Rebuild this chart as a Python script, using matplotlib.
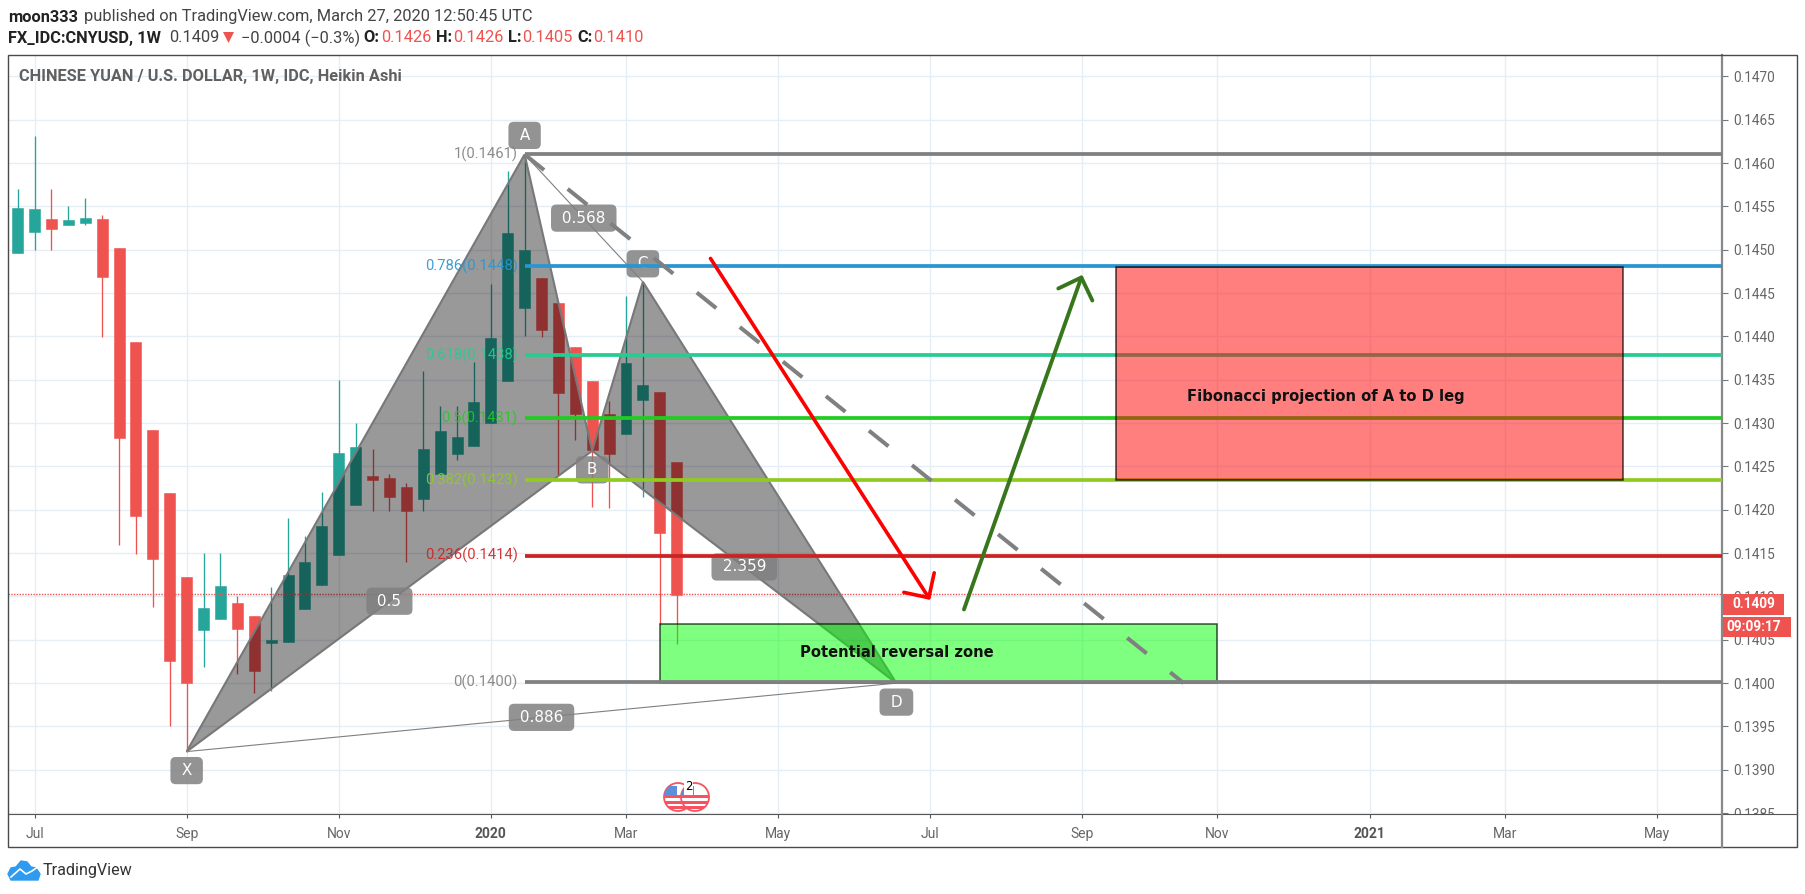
import numpy as np
import pandas as pd
import matplotlib
matplotlib.use('Agg')
import matplotlib.pyplot as plt
import matplotlib.dates as mdates
from matplotlib.lines import Line2D
from matplotlib.patches import Rectangle, Circle, Polygon
from matplotlib.transforms import Affine2D, blended_transform_factory

W, H = 1805, 894

# weekly heikin ashi candles
bar_start = '2019-06-24'
opens = [.14496, .14521, .14536, .14528, .14531, .14536, .14502, .14394, .14292, .14219,
         .14122, .14061, .14074, .14093, .14077, .14046, .14048, .14085, .14113, .14148,
         .14205, .14239, .14237, .14226, .14212, .14241, .14264, .14274, .14300, .14349,
         .14433, .14467, .14438, .14388, .14348, .14310, .14287, .14327, .14336, .14255]
closes = [.14548, .14547, .14524, .14534, .14537, .14469, .14283, .14193, .14143, .14025,
          .14000, .14087, .14112, .14062, .14014, .14050, .14125, .14140, .14181, .14265,
          .14272, .14234, .14215, .14199, .14270, .14291, .14284, .14324, .14398, .14519,
          .14500, .14407, .14335, .14310, .14269, .14264, .14369, .14344, .14173, .14102]
highs = [.14570, .14631, .14570, .14550, .14560, .14540, .14502, .14394, .14292, .14219,
         .14122, .14150, .14150, .14101, .14077, .14111, .14190, .14170, .14220, .14350,
         .14300, .14270, .14241, .14231, .14360, .14320, .14320, .14371, .14461, .14591,
         .14610, .14467, .14438, .14388, .14348, .14325, .14447, .14463, .14336, .14255]
lows = [.14496, .14500, .14500, .14528, .14528, .14399, .14159, .14149, .14088, .13950,
        .13921, .14019, .14074, .14010, .13989, .13991, .14048, .14085, .14113, .14148,
        .14205, .14199, .14199, .14140, .14199, .14241, .14258, .14274, .14300, .14349,
        .14401, .14399, .14240, .14281, .14203, .14202, .14287, .14215, .14067, .14045]

# harmonic pattern points
pattern_names = ['X', 'A', 'B', 'C', 'D']
pattern_dates = ['2019-09-02', '2020-01-20', '2020-02-17', '2020-03-09', '2020-06-22']
pattern_prices = [.13921, .1461, .14268, .14463, .1400]
ratio_labels = ['0.568', '0.5', '0.886', '2.359']

# fib levels
fib_ratios = ['1', '0.786', '0.618', '0.5', '0.382', '0.236', '0']
fib_texts = ['0.1461', '0.1448', '0.1438', '0.1431', '0.1423', '0.1414', '0.1400']
fib_levels = [.14610, .14481, .14378, .14306, .14234, .14147, .14001]
fib_colors = ['#808080', '#2A95D0', '#26CC91', '#22CC22', '#8FCC22', '#CC2222', '#808080']

# drawings
dash_dates = ['2020-01-20', '2020-10-19']
dash_prices = [.1461, .1400]
red_arrow_dates = ['2020-04-06', '2020-07-06']
red_arrow_prices = [.14490, .14096]
green_arrow_dates = ['2020-07-20', '2020-09-07']
green_arrow_prices = [.14085, .14471]
red_box = ['2020-09-21', '2021-04-19', .14234, .14480]
green_box = ['2020-03-16', '2020-11-02', .14000, .14068]
red_note = ['2020-12-17', .14331, 'Fibonacci projection of A to D leg']
green_note = ['2020-06-22', .14035, 'Potential reversal zone']
last_line = .14103
last_label = .14091

tick_dates = ['2019-07-01', '2019-09-02', '2019-11-04', '2020-01-06', '2020-03-02', '2020-05-04',
              '2020-07-06', '2020-09-07', '2020-11-02', '2021-01-04', '2021-03-01', '2021-05-03']
tick_names = ['Jul', 'Sep', 'Nov', '2020', 'Mar', 'May', 'Jul', 'Sep', 'Nov', '2021', 'Mar', 'May']
price_ticks = [.1385, .1390, .1395, .1400, .1405, .1410, .1415, .1420, .1425, .1430, .1435,
               .1440, .1445, .1450, .1455, .1460, .1465, .1470]


def dnum(d):
    return mdates.date2num(pd.Timestamp(d))


plt.rcParams['font.family'] = ['Roboto', 'DejaVu Sans']
fig = plt.figure(figsize=(W / 100, H / 100), dpi=100, facecolor='white')
px = Affine2D().scale(1, -1).translate(0, H)  # chart furniture placed in image pixels

ax = fig.add_axes([8 / W, 1 - 814 / H, 1714 / W, 759 / H])
ax.set_xlim(dnum('2019-06-20'), dnum('2021-05-30'))
ax.set_ylim(.13849, .147247)
price_per_px = (.147247 - .13849) / 759

ax.set_axisbelow(True)
ax.grid(True, color='#E6EEF5', lw=1.0)
ax.set_xticks([dnum(d) for d in tick_dates])
ax.set_xticklabels(tick_names)
ax.yaxis.tick_right()
ax.set_yticks(price_ticks)
ax.set_yticklabels(['%.4f' % p for p in price_ticks])
ax.tick_params(axis='x', length=3, width=0.8, color='#555555', labelsize=10, labelcolor='#666666', pad=6.5)
ax.tick_params(axis='y', length=4.3, width=0.8, color='#777777', labelsize=9.8, labelcolor='#666666', pad=3.6)
for lab, name in zip(ax.get_xticklabels(), tick_names):
    if name.isdigit():
        lab.set_fontweight('bold')
        lab.set_color('#555555')
for lab in ax.get_yticklabels():
    lab.set_clip_on(True)
    lab.set_clip_box(matplotlib.transforms.Bbox([[1723, H - 814], [1797, H - 55]]))
for s in ['left', 'top']:
    ax.spines[s].set_visible(False)
ax.spines['bottom'].set_color('#555555')
ax.spines['bottom'].set_linewidth(0.8)
ax.spines['right'].set_color('#888888')
ax.spines['right'].set_linewidth(1.6)

# candles
bar_x = mdates.date2num(pd.date_range(bar_start, periods=len(opens), freq='7D'))
opens, closes, highs, lows = map(np.array, (opens, closes, highs, lows))
colors = np.where(closes >= opens, '#26A69A', '#EF5350')
ax.vlines(bar_x, lows, highs, colors=colors, lw=0.95, zorder=2)
ax.bar(bar_x, closes - opens, bottom=opens, width=4.55, color=colors, edgecolor=colors, lw=0.4, zorder=3)

ax.axhline(last_line, color='#EF5350', lw=1.0, ls=(0, (1, 1)), zorder=3.5)

# pattern
pat_x = [dnum(d) for d in pattern_dates]
pat = dict(zip(pattern_names, zip(pat_x, pattern_prices)))
for tri in ('XAB', 'BCD'):
    ax.fill([pat[k][0] for k in tri], [pat[k][1] for k in tri], facecolor=(0, 0, 0, 0.4),
            edgecolor='#787878', lw=1.5, zorder=4)
for a, b in ('AC', 'XD'):
    ax.plot([pat[a][0], pat[b][0]], [pat[a][1], pat[b][1]], color='#808080', lw=0.8, zorder=4)

box_style = dict(boxstyle='round,pad=0.4,rounding_size=0.35', fc=(0.5, 0.5, 0.5, 0.85), ec='none')
offsets = {'X': -19, 'A': 19, 'B': -19, 'C': 18, 'D': -19}
for name in pattern_names:
    ax.annotate(' %s ' % name, xy=pat[name], xytext=(0, offsets[name]), textcoords='offset pixels', ha='center',
                va='center', color='white', fontsize=11, family='DejaVu Sans', bbox=box_style, zorder=4.5)
for lab, (a, b) in zip(ratio_labels, ('AC', 'XB', 'XD', 'BD')):
    mid = ((pat[a][0] + pat[b][0]) / 2, (pat[a][1] + pat[b][1]) / 2)
    ax.annotate(' %s ' % lab, xy=mid, ha='center', va='center', color='white', fontsize=11, family='DejaVu Sans',
                bbox=box_style, zorder=4.5)

# zone under the fib lines, projection box over them
gx0, gx1, gy0, gy1 = green_box
ax.add_patch(Rectangle((dnum(gx0), gy0), dnum(gx1) - dnum(gx0), gy1 - gy0, fc=(0, 1, 0, 0.5),
                       ec=(0, 0, 0, 0.7), lw=1.1, zorder=4.8))

fib_x = pat['A'][0]
for r, t, lev, col in zip(fib_ratios, fib_texts, fib_levels, fib_colors):
    ax.plot([fib_x, ax.get_xlim()[1]], [lev, lev], color=col, lw=2.7, solid_capstyle='butt', zorder=5)
    ax.annotate('%s(%s)' % (r, t), xy=(fib_x, lev), xytext=(-7, 0), textcoords='offset pixels', ha='right',
                va='center', color=col, fontsize=10.6, alpha=0.9, zorder=5)

rx0, rx1, ry0, ry1 = red_box
ax.add_patch(Rectangle((dnum(rx0), ry0), dnum(rx1) - dnum(rx0), ry1 - ry0, fc=(1, 0, 0, 0.5),
                       ec=(0, 0, 0, 0.75), lw=1.1, zorder=5.5))
for d, p, s in (red_note, green_note):
    ax.text(dnum(d), p, s, ha='center', va='center', fontsize=10.6, fontweight='bold', family='DejaVu Sans',
            color='#111111', zorder=6)

# dashed projection and the two arrows
ax.plot([dnum(d) for d in dash_dates], dash_prices, color='#808080', lw=2.9, ls=(0, (6.2, 7.5)),
        dash_capstyle='butt', zorder=7)
for ds, ps, col, lw in ((red_arrow_dates, red_arrow_prices, '#FF0000', 2.6),
                        (green_arrow_dates, green_arrow_prices, '#38761D', 2.8)):
    ax.annotate('', xy=(dnum(ds[1]), ps[1]), xytext=(dnum(ds[0]), ps[0]), zorder=7,
                arrowprops=dict(arrowstyle='->,head_length=1,head_width=1', mutation_scale=13, lw=lw, color=col,
                                shrinkA=0, shrinkB=0))

# last price boxes on the scale
scale_tr = blended_transform_factory(px, ax.transData)
ax.add_patch(Rectangle((1723, last_label - 10.5 * price_per_px), 61, 21 * price_per_px, fc='#EF5350', ec='none',
                       transform=scale_tr, clip_on=False, zorder=9))
ax.text(1754, last_label, '0.1409', transform=scale_tr, color='white', fontsize=9.8, fontweight='bold', ha='center',
        va='center', clip_on=False, zorder=10)
ax.add_patch(Rectangle((1723, last_label - 33 * price_per_px), 68, 20 * price_per_px, fc='#EF5350', ec='none',
                       transform=scale_tr, clip_on=False, zorder=9))
ax.text(1754, last_label - 22.5 * price_per_px, '09:09:17', transform=scale_tr, color='white', fontsize=9.8,
        fontweight='bold', ha='center', va='center', clip_on=False, zorder=10)

# frame
fig.add_artist(Rectangle((8, 55), 1789, 792, fc='none', ec='#4A4A4A', lw=1.0, transform=px))
fig.add_artist(Line2D([1722, 1797], [814, 814], color='#555555', lw=0.8, transform=px))
fig.add_artist(Line2D([1722, 1722], [814, 847], color='#888888', lw=1.6, transform=px))

# header
fig.text(8.5, 17, 'moon333', transform=px, fontsize=11.8, fontweight='bold', color='#222222', va='center')
fig.text(84, 17, 'published on TradingView.com, March 27, 2020 12:50:45 UTC', transform=px, fontsize=11.8,
         color='#444444', va='center')
fig.text(8.5, 38, 'FX_IDC:CNYUSD, 1W', transform=px, fontsize=11.8, fontweight='bold', color='#222222', va='center')
fig.text(169, 38, '0.1409', transform=px, fontsize=11.8, color='#444444', va='center')
fig.add_artist(Polygon([(223, 32), (234, 32), (228.5, 43)], fc='#EF5350', ec='none', transform=px))
fig.text(241, 38, '\u22120.0004 (\u22120.3%)', transform=px, fontsize=11.8, color='#444444', va='center')
for x, lab in ((363, 'O:'), (436, 'H:'), (508, 'L:'), (577, 'C:')):
    fig.text(x, 38, lab, transform=px, fontsize=11.8, fontweight='bold', color='#222222', va='center')
for x, val in ((381, '0.1426'), (453, '0.1426'), (522, '0.1405'), (593, '0.1410')):
    fig.text(x, 38, val, transform=px, fontsize=11.8, color='#EF5350', va='center')
fig.text(19, 76, 'CHINESE YUAN / U.S. DOLLAR, 1W, IDC, Heikin Ashi', transform=px, fontsize=11.8,
         fontweight='bold', color='#606060', va='center')

# earnings style flags at the bottom of the pane
for cx in (678, 695):
    clip = Circle((cx, 797), 14, fc='white', ec='#F7525F', lw=1.3, transform=px)
    fig.add_artist(clip)
    for y0 in (795, 801, 806):
        r = Rectangle((cx - 14, y0), 28, 3, fc='#F7525F', ec='none', transform=px)
        fig.add_artist(r)
        r.set_clip_path(clip)
    r = Rectangle((cx - 14, 786), 13, 10, fc='#5B8FD9', ec='none', transform=px)
    fig.add_artist(r)
    r.set_clip_path(clip)
fig.text(688.5, 787, '2', transform=px, fontsize=8.5, color='black', ha='center', va='center',
         family='DejaVu Sans', bbox=dict(boxstyle='square,pad=0.1', fc='white', ec='none'))

# logo
fig.add_artist(Polygon([(8, 874), (11, 868), (16, 867), (21, 861), (27, 862), (31, 867), (36, 868), (40, 874),
                        (38, 880), (11, 880)], fc='#2E9BF0', ec='#2E9BF0', lw=1, transform=px))
fig.add_artist(Line2D([11, 20, 26, 32, 39], [877, 869, 874, 871, 866], color='white', lw=1.2, transform=px))
fig.text(42.5, 870.5, 'TradingView', transform=px, fontsize=11.6, color='#333333', va='center')

fig.savefig('out.png', dpi=100)
